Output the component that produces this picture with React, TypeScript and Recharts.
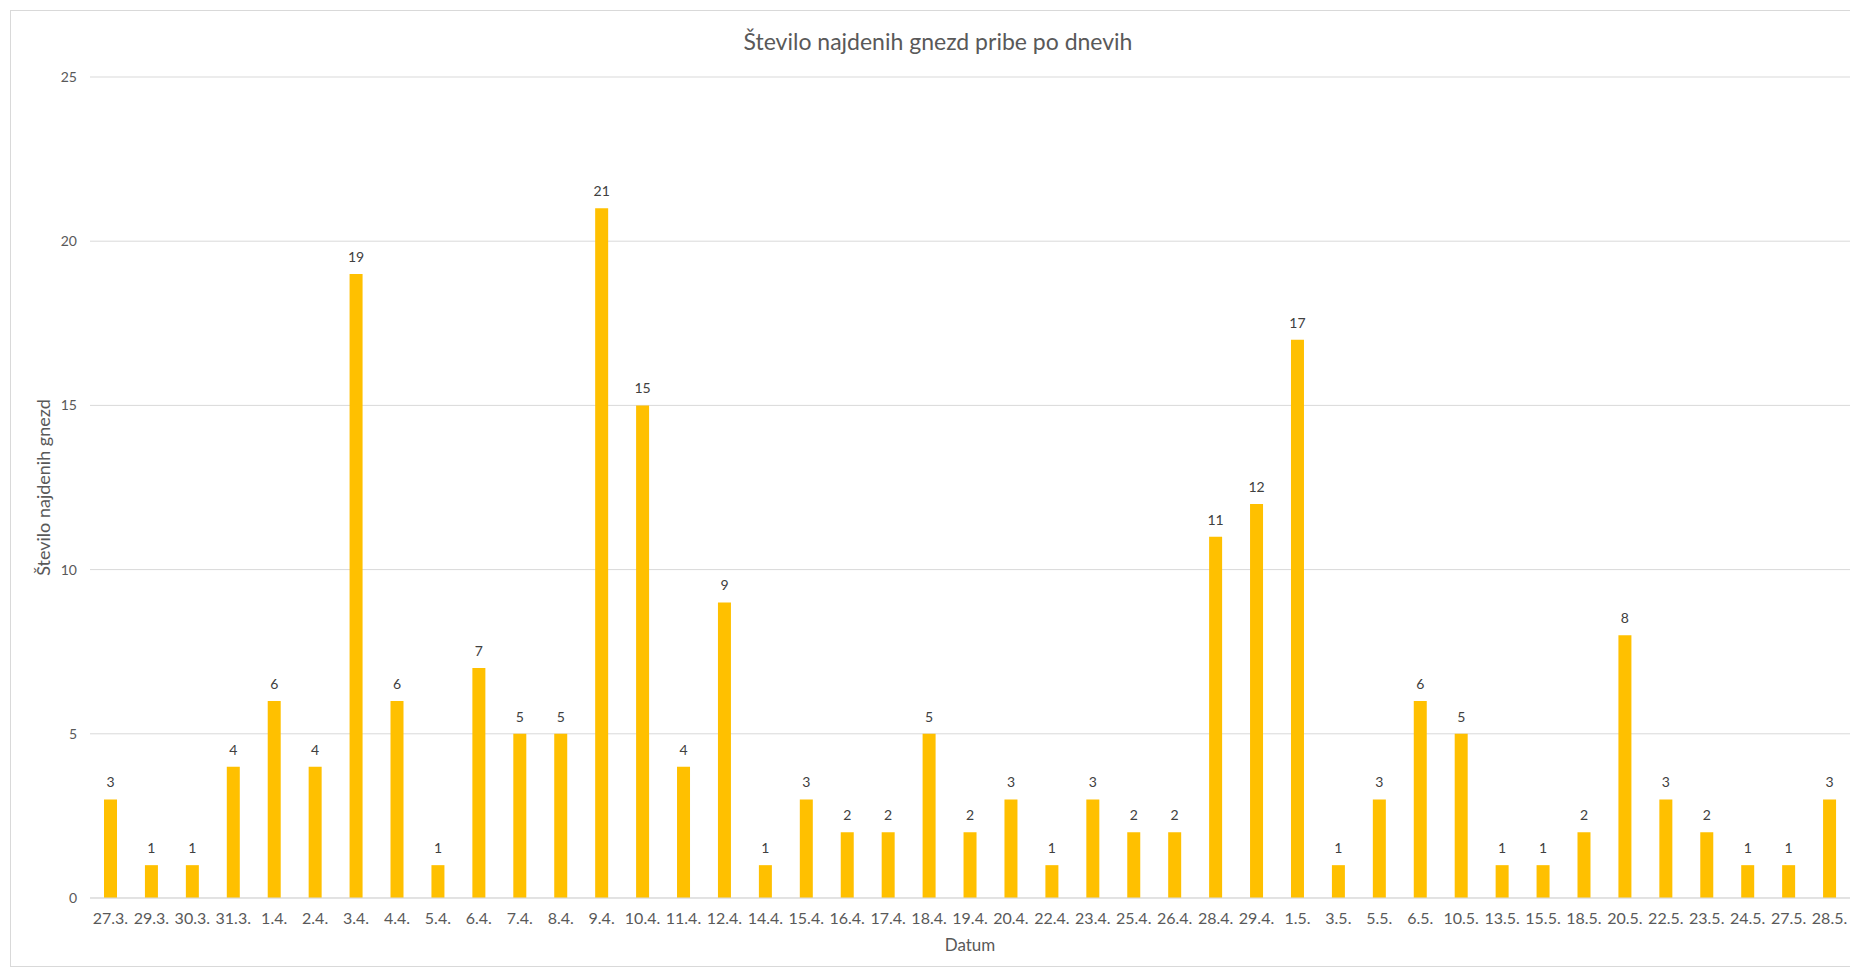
import React from "react";
import { BarChart, Bar, XAxis, YAxis, CartesianGrid, LabelList, Label } from "recharts";

const dates = [
  "27.3.", "29.3.", "30.3.", "31.3.", "1.4.", "2.4.", "3.4.", "4.4.", "5.4.", "6.4.",
  "7.4.", "8.4.", "9.4.", "10.4.", "11.4.", "12.4.", "14.4.", "15.4.", "16.4.", "17.4.",
  "18.4.", "19.4.", "20.4.", "22.4.", "23.4.", "25.4.", "26.4.", "28.4.", "29.4.", "1.5.",
  "3.5.", "5.5.", "6.5.", "10.5.", "13.5.", "15.5.", "18.5.", "20.5.", "22.5.", "23.5.",
  "24.5.", "27.5.", "28.5.",
];
const nests = [
  3, 1, 1, 4, 6, 4, 19, 6, 1, 7,
  5, 5, 21, 15, 4, 9, 1, 3, 2, 2,
  5, 2, 3, 1, 3, 2, 2, 11, 12, 17,
  1, 3, 6, 5, 1, 1, 2, 8, 3, 2,
  1, 1, 3,
];
const yTicks = [0, 5, 10, 15, 20, 25];

const title = "Število najdenih gnezd pribe po dnevih";
const yTitle = "Število najdenih gnezd";
const xTitle = "Datum";

const data = dates.map((d, i) => ({ date: d, value: nests[i] }));

const FONT = "Lato, 'Open Sans', sans-serif";

export default function App() {
  return (
    <div
      style={{
        position: "absolute",
        left: 0,
        top: 0,
        width: 1850,
        height: 971,
        overflow: "hidden",
        background: "#fff",
        fontFamily: FONT,
      }}
    >
      <div
        style={{
          position: "absolute",
          left: 10,
          top: 10,
          width: 1900,
          height: 955,
          border: "1px solid #d9d9d9",
        }}
      />
      <div
        style={{
          position: "absolute",
          left: 10,
          width: 1856,
          top: 27,
          textAlign: "center",
          fontSize: 23,
          color: "#595959",
          lineHeight: "28px",
        }}
      >
        {title}
      </div>
      <div style={{ position: "absolute", left: 0, top: 0 }}>
        <BarChart
          width={1850}
          height={971}
          data={data}
          margin={{ top: 77, right: 0, left: 30, bottom: 33 }}
          barCategoryGap={0}
        >
          <CartesianGrid vertical={false} stroke="#d9d9d9" strokeWidth={1} />
          <XAxis
            dataKey="date"
            interval={0}
            height={40}
            tickLine={false}
            axisLine={{ stroke: "#d9d9d9" }}
            tickMargin={9}
            tick={{ fill: "#595959", fontSize: 16, fontFamily: FONT }}
          >
            <Label
              content={(props: any) => {
                const vb = props.viewBox || {};
                return (
                  <text
                    x={vb.x + vb.width / 2}
                    y={vb.y + 53}
                    textAnchor="middle"
                    fill="#595959"
                    fontSize={17}
                    fontFamily={FONT}
                  >
                    {xTitle}
                  </text>
                );
              }}
            />
          </XAxis>
          <YAxis
            width={60}
            domain={[0, 25]}
            ticks={yTicks}
            tickLine={false}
            axisLine={false}
            tickMargin={7}
            tick={{ fill: "#595959", fontSize: 14, fontFamily: FONT }}
          >
            <Label
              content={(props: any) => {
                const vb = props.viewBox || {};
                const cx = vb.x + 20;
                const cy = vb.y + vb.height / 2;
                return (
                  <text
                    x={cx}
                    y={cy}
                    transform={`rotate(-90 ${cx} ${cy})`}
                    textAnchor="middle"
                    fill="#595959"
                    fontSize={18}
                    fontFamily={FONT}
                  >
                    {yTitle}
                  </text>
                );
              }}
            />
          </YAxis>
          <Bar dataKey="value" fill="#FFC000" barSize={13} isAnimationActive={false}>
            <LabelList
              dataKey="value"
              position="top"
              offset={12}
              fill="#404040"
              fontSize={14}
              fontFamily={FONT}
            />
          </Bar>
        </BarChart>
      </div>
    </div>
  );
}
